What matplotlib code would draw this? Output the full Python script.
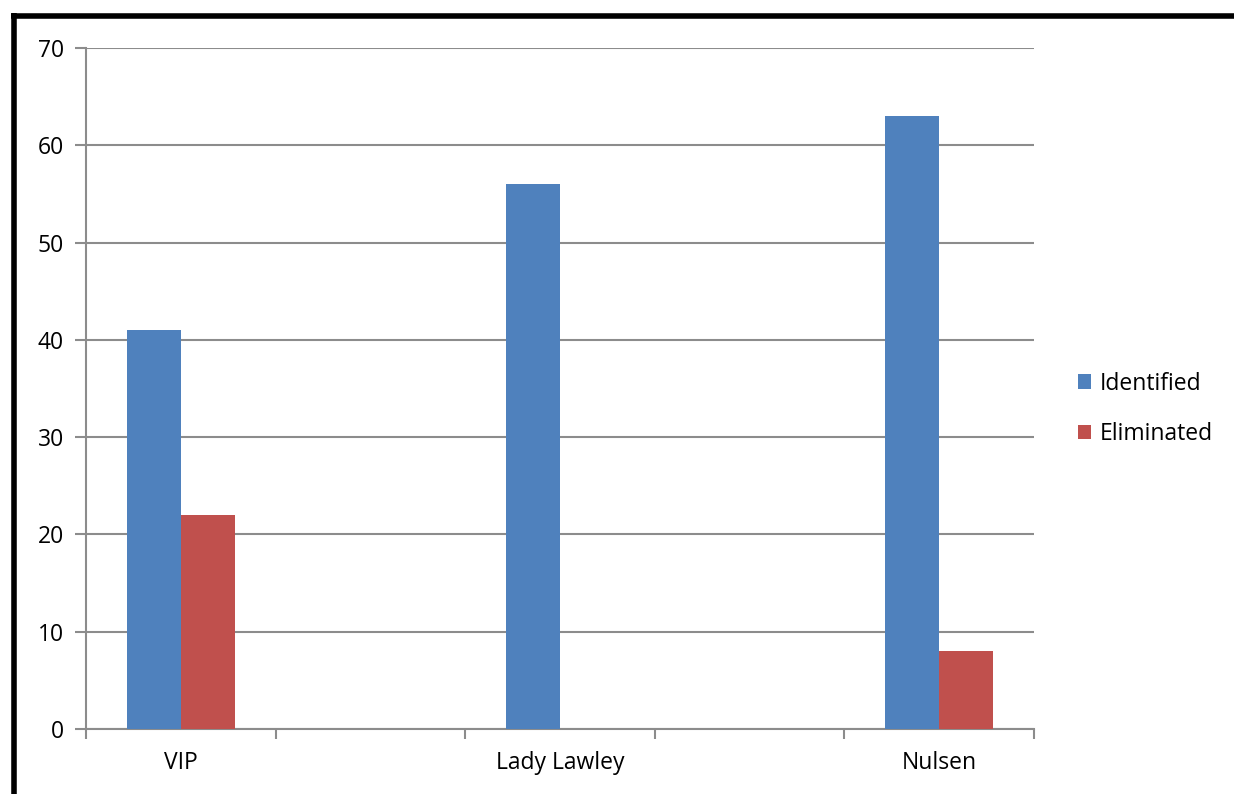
import matplotlib
matplotlib.use("Agg")
import matplotlib.pyplot as plt
import numpy as np
from matplotlib.lines import Line2D

plt.rcParams['font.family'] = ['Open Sans', 'DejaVu Sans']

categories = ['VIP', '', 'Lady Lawley', '', 'Nulsen']
identified = [41, 0, 56, 0, 63]
eliminated = [22, 0, 0, 0, 8]
yticks = [0, 10, 20, 30, 40, 50, 60, 70]

blue = '#4F81BD'
red = '#C0504D'
grid = '#8C8C8C'

fig = plt.figure(figsize=(12.34, 7.94), dpi=100)
ax = fig.add_axes([86 / 1234, 1 - 729 / 794, (1034 - 86) / 1234, (729 - 48) / 794])

x = np.arange(len(categories))
w = 54 / 189.6
ax.bar(x - w / 2, identified, w, color=blue, label='Identified', zorder=3)
ax.bar(x + w / 2, eliminated, w, color=red, label='Eliminated', zorder=3)

ax.set_xlim(-0.5, len(categories) - 0.5)
ax.set_ylim(0, 70)
ax.set_yticks(yticks)
ax.set_xticks(x)
ax.set_xticklabels(categories)
ax.set_xticks(np.arange(len(categories) + 1) - 0.5, minor=True)
ax.tick_params(axis='x', which='major', length=0, pad=16, labelsize=16.5)
ax.tick_params(axis='x', which='minor', length=7, width=1.5, color=grid)
ax.tick_params(axis='y', length=8, width=1.5, color=grid, pad=8, labelsize=16.5)
ax.yaxis.grid(True, color=grid, linewidth=1.5, zorder=0)
for s in ['top', 'right']:
    ax.spines[s].set_visible(False)
for s in ['left', 'bottom']:
    ax.spines[s].set_color(grid)
    ax.spines[s].set_linewidth(1.5)

ax.legend(loc='center left', bbox_to_anchor=(1057 / 1234, 1 - 409 / 794),
          bbox_transform=fig.transFigure, frameon=False, fontsize=16.5,
          handlelength=0.6, handleheight=0.6, handletextpad=0.35, labelspacing=1.15)

# outer frame (top and left edges only)
fig.add_artist(Line2D([11 / 1234, 1], [1 - 15.5 / 794] * 2, color='black', linewidth=4,
                      solid_capstyle='butt', transform=fig.transFigure))
fig.add_artist(Line2D([13.5 / 1234] * 2, [0, 1 - 13 / 794], color='black', linewidth=4,
                      solid_capstyle='butt', transform=fig.transFigure))

fig.savefig('out.png', dpi=100)
